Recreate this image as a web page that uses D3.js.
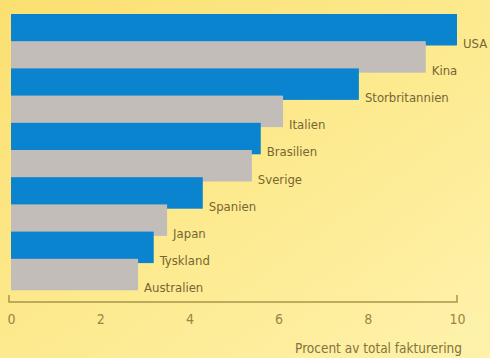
<!DOCTYPE html>
<html>
<head>
<meta charset="utf-8">
<script src="https://cdn.jsdelivr.net/npm/d3@7"></script>
<style>
  html, body { margin: 0; padding: 0; }
  body { width: 490px; height: 358px; overflow: hidden; }
  text { font-family: "DejaVu Sans Condensed", "DejaVu Sans", sans-serif; }
</style>
</head>
<body>
<svg id="chart" width="490" height="358"></svg>
<script>
const categories = ["USA", "Kina", "Storbritannien", "Italien", "Brasilien", "Sverige", "Spanien", "Japan", "Tyskland", "Australien"];
const values = [10.0, 9.3, 7.8, 6.1, 5.6, 5.4, 4.3, 3.5, 3.2, 2.85];
const tickValues = [0, 2, 4, 6, 8, 10];
const axisTitle = "Procent av total fakturering";
const barColors = ["#0a84cf", "#c2bdb9"];

const svg = d3.select("#chart");
const defs = svg.append("defs");
const grad = defs.append("linearGradient").attr("id", "bg")
  .attr("x1", "0%").attr("y1", "0%").attr("x2", "100%").attr("y2", "100%");
grad.append("stop").attr("offset", "0%").attr("stop-color", "#fbdf70");
grad.append("stop").attr("offset", "50%").attr("stop-color", "#fdea8e");
grad.append("stop").attr("offset", "100%").attr("stop-color", "#fef2ac");
svg.append("rect").attr("width", 490).attr("height", 358).attr("fill", "url(#bg)");

const x = d3.scaleLinear().domain([0, 10]).range([11, 457]);
const y = d3.scaleBand().domain(categories).range([14, 286]).padding(0);
const barH = y.bandwidth() + 4.3;

const data = categories.map((c, i) => ({ c, v: values[i], i }));

svg.append("g").selectAll("rect").data(data).join("rect")
  .attr("x", x(0))
  .attr("y", d => y(d.c))
  .attr("width", d => x(d.v) - x(0))
  .attr("height", barH)
  .attr("fill", d => barColors[d.i % 2]);

svg.append("g").selectAll("text").data(data).join("text")
  .attr("x", d => x(d.v) + 6)
  .attr("y", d => y(d.c) + barH + 2)
  .attr("font-size", 13)
  .attr("fill", "#766633")
  .text(d => d.c);

// axis
const axisY = 302;
const axis = d3.axisBottom(x).tickValues(tickValues).tickSize(0).tickPadding(12);
const gAxis = svg.append("g").attr("transform", `translate(0,${axisY})`).call(axis);
gAxis.select(".domain").remove();
gAxis.selectAll("text").attr("font-size", 14).attr("fill", "#968648")
  .attr("font-family", "\"DejaVu Sans Condensed\", \"DejaVu Sans\", sans-serif");

const axisColor = "#a8964a";
svg.append("path")
  .attr("d", `M${x(0) - 2},${axisY - 7}V${axisY}H${x(10)}V${axisY - 7}`)
  .attr("fill", "none").attr("stroke", axisColor).attr("stroke-width", 1.5);

svg.append("text")
  .attr("x", 462).attr("y", 353)
  .attr("text-anchor", "end")
  .attr("font-size", 13.5)
  .attr("fill", "#84743a")
  .text(axisTitle);
</script>
</body>
</html>
